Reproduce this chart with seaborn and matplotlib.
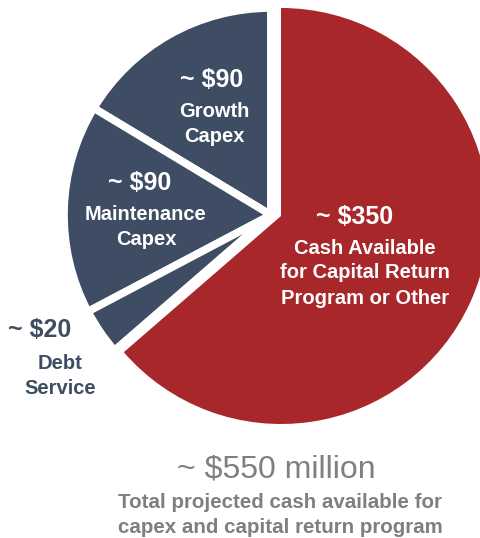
import matplotlib
matplotlib.use("Agg")
import matplotlib.pyplot as plt
import seaborn as sns

# Data
categories = ["Growth Capex", "Maintenance Capex", "Debt Service",
              "Cash Available for Capital Return Program or Other"]
values = [90, 90, 20, 350]
value_labels = ["~ $90", "~ $90", "~ $20", "~ $350"]
total_label = "~ $550 million"
subtitle = "Total projected cash available for\ncapex and capital return program"

sns.set_theme(style="white")
plt.rcParams["font.family"] = ["Liberation Sans", "DejaVu Sans"]

DARK = "#3E4D63"
RED = "#A8272A"
GRAY = "#7F7F7F"
# the cash slice is pulled out to the right, so draw the pie in two passes
dark_colors = [DARK, DARK, DARK, "none"]
red_colors = ["none", "none", "none", RED]

W, H = 480, 538
fig = plt.figure(figsize=(W / 100, H / 100), dpi=100)
ax = fig.add_axes([0, 0, 1, 1])


def Y(y):
    return H - y


ax.pie(values, colors=dark_colors, startangle=90, counterclock=True,
       radius=207, center=(271, Y(215)),
       wedgeprops=dict(edgecolor="white", linewidth=5.5), frame=True)
ax.pie(values, colors=red_colors, startangle=90, counterclock=True,
       radius=208, center=(281, Y(216)),
       wedgeprops=dict(edgecolor="none", linewidth=0), frame=True)
ax.set_xlim(0, W)
ax.set_ylim(0, H)
ax.set_aspect("equal")
ax.axis("off")

big = dict(ha="center", va="center", fontsize=18, fontweight="bold")
small = dict(ha="center", va="center", fontsize=14.5, fontweight="bold",
             linespacing=1.4)

# Growth Capex
ax.text(212, Y(80), value_labels[0], color="white", **big)
ax.text(214, Y(124), "Growth\nCapex", color="white", **small)
# Maintenance Capex
ax.text(140, Y(183), value_labels[1], color="white", **big)
ax.text(146, Y(227), "Maintenance\nCapex", color="white", **small)
# Debt Service (outside)
ax.text(40, Y(330), value_labels[2], color=DARK, **big)
ax.text(60, Y(376), "Debt\nService", color=DARK, **small)
# Cash available
ax.text(355, Y(217), value_labels[3], color="white", **big)
ax.text(365, Y(273), "Cash Available\nfor Capital Return\nProgram or Other",
        color="white", **small)

# Bottom totals
ax.text(276, Y(470), total_label, color=GRAY, ha="center", va="center",
        fontsize=23)
ax.text(280, Y(515), subtitle, color=GRAY, ha="center", va="center",
        fontsize=14.8, fontweight="bold", linespacing=1.42)

fig.savefig("out.png", dpi=100)
